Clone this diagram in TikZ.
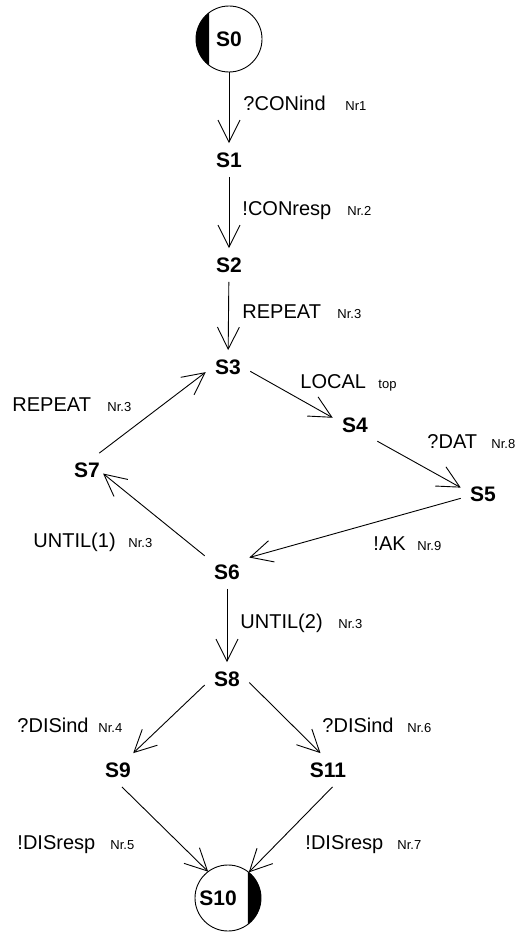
\documentclass[tikz,border=0pt]{standalone}
\usepackage{fontspec}
\setmainfont{Liberation Sans}
\usepackage{tikz}
\usetikzlibrary{arrows.meta}

\newcommand\statefont{\fontsize{21}{25}\selectfont\bfseries}
\newcommand\lblfont{\fontsize{20}{24}\selectfont}
\newcommand\nrfont{\fontsize{13}{15}\selectfont}

\begin{document}
\begin{tikzpicture}
[
	               x = 1pt,
	               y = -1pt,
	            ->, >= {Straight Barb[length=22pt,width=22pt]},
	      line width = 0.9pt,
	    state/.style = { font=\statefont, inner xsep=9pt, inner ysep=9pt },
	    final/.style = { circle, draw, minimum size=66pt, inner sep=0pt, outer sep=0pt, font=\statefont },
	      lbl/.style = { font=\lblfont, inner sep=0pt, anchor=base west },
	       nr/.style = { font=\nrfont, inner sep=0pt, anchor=base west }
]
	\useasboundingbox (0,0) rectangle (517,934);

	% states
	\node (s0)  at (229,39)  [final] {S0};
	\node (s1)  at (229,160) [state] {S1};
	\node (s2)  at (229,265) [state] {S2};
	\node (s3)  at (228,367) [state] {S3};
	\node (s4)  at (355,425) [state] {S4};
	\node (s5)  at (483,494) [state] {S5};
	\node (s6)  at (227,572) [state] {S6};
	\node (s7)  at (87,470)  [state] {S7};
	\node (s8)  at (227,679) [state] {S8};
	\node (s9)  at (118,770) [state] {S9};
	\node (s11) at (328,770) [state] {S11};
	\node (s10) at (228,898) [final, label={[state, xshift=-10pt]center:S10}] {};

	% start and end marks
	\fill[-] (s0.127) arc[start angle=127, end angle=233, radius=33pt] -- cycle;
	\fill[-] (s10.-53) arc[start angle=-53, end angle=53, radius=33pt] -- cycle;

	% transitions
	\draw (s0) -- (s1);
	\draw (s1) -- (s2);
	\draw (s2) -- (s3);
	\draw (s3.-11) -- (s4.162);
	\draw (s4.-36) -- (s5.164);
	\draw (s5.191) -- (s6.33);
	\draw [shorten >=-8pt] (s6.144) -- (s7.-21);
	\draw (s7.54) -- (s3.193);
	\draw (s6) -- (s8);
	\draw (s8.195) -- (s9.48);
	\draw (s8.-9) -- (s11.114);
	\draw (s9.-77) -- (s10.127);
	\draw (s11.-75) -- (s10.51);

	% transition labels
	\node (l1)  at (243,110) [lbl] {?CONind};  \node (n1)  at (345,110) [nr] {Nr1};
	\node (l2)  at (242,215) [lbl] {!CONresp}; \node (n2)  at (347,215) [nr] {Nr.2};
	\node (l3)  at (242,318) [lbl] {REPEAT};   \node (n3)  at (337,318) [nr] {Nr.3};
	\node (l4)  at (300,388) [lbl] {LOCAL};    \node (n4)  at (378,388) [nr] {top};
	\node (l5)  at (427,448) [lbl] {?DAT};     \node (n5)  at (491,448) [nr] {Nr.8};
	\node (l6)  at (373,550) [lbl] {!AK};      \node (n6)  at (417,550) [nr] {Nr.9};
	\node (l7)  at (33,547)  [lbl] {UNTIL(1)}; \node (n7)  at (128,547) [nr] {Nr.3};
	\node (l8)  at (12,411)  [lbl] {REPEAT};   \node (n8)  at (107,411) [nr] {Nr.3};
	\node (l9)  at (240,628) [lbl] {UNTIL(2)}; \node (n9)  at (338,628) [nr] {Nr.3};
	\node (l10) at (17,732)  [lbl] {?DISind};  \node (n10) at (98,732)  [nr] {Nr.4};
	\node (l11) at (322,732) [lbl] {?DISind};  \node (n11) at (407,732) [nr] {Nr.6};
	\node (l12) at (17,849)  [lbl] {!DISresp}; \node (n12) at (110,849) [nr] {Nr.5};
	\node (l13) at (305,849) [lbl] {!DISresp}; \node (n13) at (397,849) [nr] {Nr.7};

\end{tikzpicture}
\end{document}
